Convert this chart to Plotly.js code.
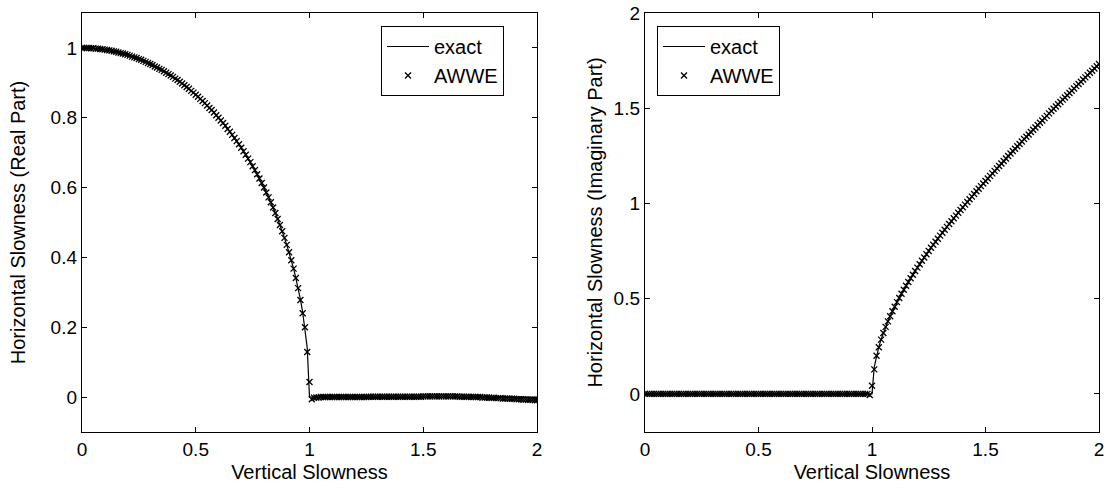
<!DOCTYPE html>
<html>
<head>
<meta charset="utf-8">
<script src="https://cdn.plot.ly/plotly-3.0.1.min.js"></script>
<style>html,body{margin:0;padding:0;background:#fff}#chart{width:1111px;height:491px}</style>
</head>
<body>
<div id="chart"></div>
<script>
// Vertical slowness grid (shared by both panels)
const slowness = [0,0.01,0.02,0.03,0.04,0.05,0.06,0.07,0.08,0.09,0.1,0.11,0.12,0.13,0.14,0.15,0.16,0.17,0.18,0.19,0.2,0.21,0.22,0.23,0.24,0.25,0.26,0.27,0.28,0.29,0.3,0.31,0.32,0.33,0.34,0.35,0.36,0.37,0.38,0.39,0.4,0.41,0.42,0.43,0.44,0.45,0.46,0.47,0.48,0.49,0.5,0.51,0.52,0.53,0.54,0.55,0.56,0.57,0.58,0.59,0.6,0.61,0.62,0.63,0.64,0.65,0.66,0.67,0.68,0.69,0.7,0.71,0.72,0.73,0.74,0.75,0.76,0.77,0.78,0.79,0.8,0.81,0.82,0.83,0.84,0.85,0.86,0.87,0.88,0.89,0.9,0.91,0.92,0.93,0.94,0.95,0.96,0.97,0.98,0.99,1,1.01,1.02,1.03,1.04,1.05,1.06,1.07,1.08,1.09,1.1,1.11,1.12,1.13,1.14,1.15,1.16,1.17,1.18,1.19,1.2,1.21,1.22,1.23,1.24,1.25,1.26,1.27,1.28,1.29,1.3,1.31,1.32,1.33,1.34,1.35,1.36,1.37,1.38,1.39,1.4,1.41,1.42,1.43,1.44,1.45,1.46,1.47,1.48,1.49,1.5,1.51,1.52,1.53,1.54,1.55,1.56,1.57,1.58,1.59,1.6,1.61,1.62,1.63,1.64,1.65,1.66,1.67,1.68,1.69,1.7,1.71,1.72,1.73,1.74,1.75,1.76,1.77,1.78,1.79,1.8,1.81,1.82,1.83,1.84,1.85,1.86,1.87,1.88,1.89,1.9,1.91,1.92,1.93,1.94,1.95,1.96,1.97,1.98,1.99,2];

// Left panel: real part of horizontal slowness
const realExact = [1,1,1,1,0.999,0.999,0.998,0.998,0.997,0.996,0.995,0.994,0.993,0.992,0.99,0.989,0.987,0.985,0.984,0.982,0.98,0.978,0.975,0.973,0.971,0.968,0.966,0.963,0.96,0.957,0.954,0.951,0.947,0.944,0.94,0.937,0.933,0.929,0.925,0.921,0.917,0.912,0.908,0.903,0.898,0.893,0.888,0.883,0.877,0.872,0.866,0.86,0.854,0.848,0.842,0.835,0.828,0.822,0.815,0.807,0.8,0.792,0.785,0.777,0.768,0.76,0.751,0.742,0.733,0.724,0.714,0.704,0.694,0.683,0.673,0.661,0.65,0.638,0.626,0.613,0.6,0.586,0.572,0.558,0.543,0.527,0.51,0.493,0.475,0.456,0.436,0.415,0.392,0.368,0.341,0.312,0.28,0.243,0.199,0.141,0,
0,0,0,0,0,0,0,0,0,0,0,0,0,0,0,0,0,0,0,0,0,0,0,0,0,0,0,0,0,0,0,0,0,0,0,0,0,0,0,0,0,0,0,0,0,0,0,0,0,0,0,0,0,0,0,0,0,0,0,0,0,0,0,0,0,0,0,0,0,0,0,0,0,0,0,0,0,0,0,0,0,0,0,0,0,0,0,0,0,0,0,0,0,0,0,0,0,0,0,0];
const realAWWE = [1,1,1,1,0.999,0.999,0.998,0.998,0.997,0.996,0.995,0.994,0.993,0.992,0.99,0.989,0.987,0.985,0.984,0.982,0.98,0.978,0.975,0.973,0.971,0.968,0.966,0.963,0.96,0.957,0.954,0.951,0.947,0.944,0.94,0.937,0.933,0.929,0.925,0.921,0.917,0.912,0.908,0.903,0.898,0.893,0.888,0.883,0.877,0.872,0.866,0.86,0.854,0.848,0.842,0.835,0.828,0.822,0.815,0.807,0.8,0.792,0.785,0.777,0.768,0.76,0.751,0.742,0.733,0.724,0.714,0.704,0.694,0.683,0.673,0.661,0.65,0.638,0.626,0.613,0.6,0.586,0.572,0.558,0.543,0.527,0.51,0.493,0.475,0.456,0.436,0.415,0.392,0.368,0.341,0.312,0.278,0.24,0.2,0.129,0.043,
-0.006,-0.002,-0.001,-0.001,0,0,0,0,0,0,0,0,0,0,0,0,0,0,0,0,0,0,0,0,0,0.001,0.001,0.001,0.001,0.001,0.001,0.001,0.001,0.001,0.001,0.001,0.001,0.001,0.001,0.001,0.001,0.001,0.001,0.001,0.001,0.001,0.001,0.001,0.001,0.002,0.002,0.002,0.002,0.002,0.002,0.002,0.002,0.002,0.002,0.002,0.002,0.002,0.002,0.002,0.002,0.001,0.001,0.001,0.001,0.001,0,0,0,0,0,-0.001,-0.001,-0.001,-0.002,-0.002,-0.002,-0.003,-0.003,-0.003,-0.004,-0.004,-0.004,-0.005,-0.005,-0.005,-0.006,-0.006,-0.006,-0.007,-0.007,-0.008,-0.008,-0.008,-0.009,-0.009];

// Right panel: imaginary part of horizontal slowness
const imagExact = [0,0,0,0,0,0,0,0,0,0,0,0,0,0,0,0,0,0,0,0,0,0,0,0,0,0,0,0,0,0,0,0,0,0,0,0,0,0,0,0,0,0,0,0,0,0,0,0,0,0,0,0,0,0,0,0,0,0,0,0,0,0,0,0,0,0,0,0,0,0,0,0,0,0,0,0,0,0,0,0,0,0,0,0,0,0,0,0,0,0,0,0,0,0,0,0,0,0,0,0,0,
0.142,0.201,0.247,0.286,0.32,0.352,0.381,0.408,0.434,0.458,0.482,0.504,0.526,0.547,0.568,0.588,0.607,0.626,0.645,0.663,0.681,0.699,0.716,0.733,0.75,0.767,0.783,0.799,0.815,0.831,0.846,0.862,0.877,0.892,0.907,0.922,0.936,0.951,0.966,0.98,0.994,1.008,1.022,1.036,1.05,1.064,1.077,1.091,1.105,1.118,1.131,1.145,1.158,1.171,1.184,1.197,1.21,1.223,1.236,1.249,1.262,1.275,1.287,1.3,1.312,1.325,1.338,1.35,1.362,1.375,1.387,1.399,1.412,1.424,1.436,1.448,1.46,1.473,1.485,1.497,1.509,1.521,1.533,1.545,1.556,1.568,1.58,1.592,1.604,1.616,1.627,1.639,1.651,1.662,1.674,1.686,1.697,1.709,1.72,1.732];
const imagAWWE = [0,0,0,0,0,0,0,0,0,0,0,0,0,0,0,0,0,0,0,0,0,0,0,0,0,0,0,0,0,0,0,0,0,0,0,0,0,0,0,0,0,0,0,0,0,0,0,0,0,0,0,0,0,0,0,0,0,0,0,0,0,0,0,0,0,0,0,0,0,0,0,0,0,0,0,0,0,0,0,0,0,0,0,0,0,0,0,0,0,0,0,0,0,0,0,0,0,0,0,-0.006,0.043,
0.129,0.2,0.245,0.285,0.32,0.352,0.381,0.408,0.434,0.458,0.482,0.504,0.526,0.547,0.568,0.588,0.607,0.626,0.645,0.663,0.681,0.699,0.716,0.733,0.75,0.767,0.783,0.799,0.815,0.831,0.846,0.862,0.877,0.892,0.907,0.922,0.936,0.951,0.966,0.98,0.994,1.008,1.022,1.036,1.05,1.064,1.077,1.091,1.105,1.118,1.131,1.145,1.158,1.171,1.184,1.197,1.21,1.223,1.236,1.249,1.262,1.275,1.287,1.3,1.312,1.325,1.338,1.35,1.362,1.375,1.387,1.399,1.412,1.424,1.436,1.448,1.46,1.473,1.485,1.497,1.509,1.521,1.533,1.545,1.556,1.568,1.58,1.592,1.604,1.616,1.627,1.639,1.651,1.662,1.674,1.686,1.697,1.709,1.72,1.732];

const seriesNames = ['exact', 'AWWE'];
const xTicks = [0, 0.5, 1, 1.5, 2];
const yTicksLeft = [0, 0.2, 0.4, 0.6, 0.8, 1];
const yTicksRight = [0, 0.5, 1, 1.5, 2];

const FONT = 'Liberation Sans, Arial, Helvetica, sans-serif';
const lineStyle = {color: '#000', width: 1.2};
const markStyle = {symbol: 'x-thin-open', size: 6, color: '#000', line: {color: '#000', width: 1.3}};

const traces = [
  {x: slowness, y: realExact, name: seriesNames[0], mode: 'lines', line: lineStyle, xaxis: 'x', yaxis: 'y', legend: 'legend'},
  {x: slowness, y: realAWWE, name: seriesNames[1], mode: 'markers', marker: markStyle, xaxis: 'x', yaxis: 'y', legend: 'legend'},
  {x: slowness, y: imagExact, name: seriesNames[0], mode: 'lines', line: lineStyle, xaxis: 'x2', yaxis: 'y2', legend: 'legend2'},
  {x: slowness, y: imagAWWE, name: seriesNames[1], mode: 'markers', marker: markStyle, xaxis: 'x2', yaxis: 'y2', legend: 'legend2'}
];

const W = 1111, H = 491;
const axisCommon = {
  showline: true, linecolor: '#000', linewidth: 1.2, mirror: 'allticks',
  ticks: 'inside', ticklen: 5, tickwidth: 1, tickcolor: '#000',
  showgrid: false, zeroline: false, automargin: false,
  tickfont: {family: FONT, size: 19, color: '#000'}
};
const titleFont = {family: FONT, size: 20, color: '#000'};
const yDom = [1 - 432 / H, 1 - 13 / H];

const layout = {
  width: W, height: H,
  margin: {l: 0, r: 0, t: 0, b: 0},
  paper_bgcolor: '#fff', plot_bgcolor: '#fff',
  font: {family: FONT, color: '#000'},
  xaxis: Object.assign({}, axisCommon, {
    domain: [82 / W, 537 / W], range: [0, 2], tickvals: xTicks, ticktext: xTicks.map(String),
    title: {text: 'Vertical Slowness', font: titleFont, standoff: 6}
  }),
  yaxis: Object.assign({}, axisCommon, {
    domain: yDom, range: [-0.1, 1.1], tickvals: yTicksLeft, ticktext: yTicksLeft.map(String),
    title: {text: 'Horizontal Slowness (Real Part)', font: titleFont, standoff: 19}
  }),
  xaxis2: Object.assign({}, axisCommon, {
    domain: [645 / W, 1099 / W], range: [0, 2], anchor: 'y2', tickvals: xTicks, ticktext: xTicks.map(String),
    title: {text: 'Vertical Slowness', font: titleFont, standoff: 6}
  }),
  yaxis2: Object.assign({}, axisCommon, {
    domain: yDom, range: [-0.2, 2], anchor: 'x2', tickvals: yTicksRight, ticktext: yTicksRight.map(String),
    title: {text: 'Horizontal Slowness (Imaginary Part)', font: titleFont, standoff: 5}
  }),
  legend: {
    x: 381 / W, y: 1 - 26 / H, xanchor: 'left', yanchor: 'top',
    bordercolor: '#000', borderwidth: 1, bgcolor: '#fff',
    font: {family: FONT, size: 20, color: '#000'}, tracegroupgap: 0, itemwidth: 42
  },
  legend2: {
    x: 657 / W, y: 1 - 26 / H, xanchor: 'left', yanchor: 'top',
    bordercolor: '#000', borderwidth: 1, bgcolor: '#fff',
    font: {family: FONT, size: 20, color: '#000'}, tracegroupgap: 0, itemwidth: 42
  },
  showlegend: true
};

Plotly.newPlot('chart', traces, layout, {displayModeBar: false, staticPlot: true});
</script>
</body>
</html>
